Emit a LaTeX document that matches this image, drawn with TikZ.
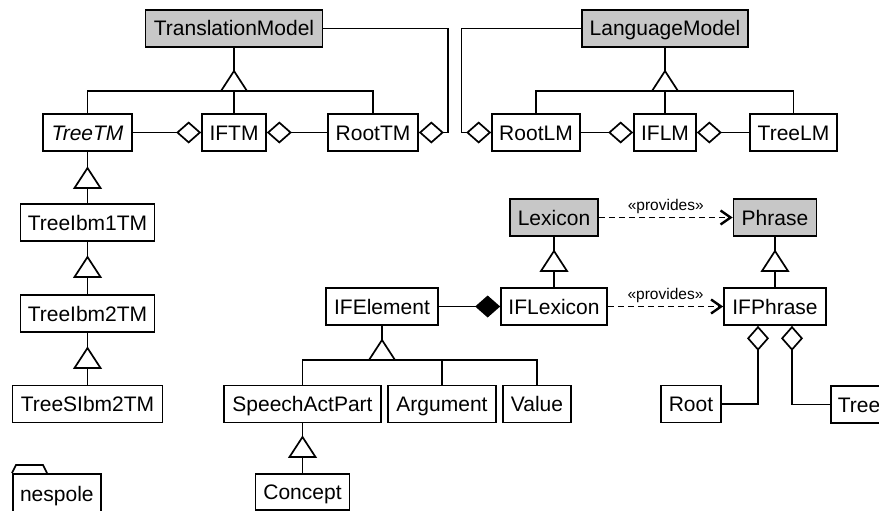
\documentclass[tikz,border=0pt]{standalone}
\usepackage{fontspec}
\setmainfont{Liberation Sans}
\usetikzlibrary{arrows.meta}

% open generalization triangle, apex given, pointing up
\newcommand\gentri[1]{\draw[fill=white, line join=miter] (#1) -- ++(-13,20) -- ++(26,0) -- cycle;}

\begin{document}
\begin{tikzpicture}[x=1pt, y=-1pt, line width=1.7pt,
  cls/.style={draw, minimum height=37pt, inner sep=0pt, text height=15pt, text depth=0pt,
              font=\fontsize{21}{25}\selectfont},
  abs/.style={cls, fill=black!22},
  agg/.style={-{Diamond[open, length=25pt, width=22pt]}},
  comp/.style={-{Diamond[length=25pt, width=22pt]}},
  dep/.style={dash pattern=on 6pt off 4pt,
              -{Straight Barb[length=10pt, width=14pt, line width=2.4pt]}},
  stereo/.style={anchor=base, yshift=7pt, inner sep=0pt, font=\fontsize{15.5}{18}\selectfont}]

\useasboundingbox (0,0) rectangle (879,511);
\clip (0,0) rectangle (879,511);

% ---- translation models
\node[abs, minimum width=177pt] (tm) at (234,28.5) {TranslationModel};
\node[cls, minimum width=89pt, font=\fontsize{21}{25}\selectfont\itshape] (treetm) at (87.5,132.5) {TreeTM};
\node[cls, minimum width=64pt] (iftm) at (234,132.5) {IFTM};
\node[cls, minimum width=90pt] (roottm) at (373,132.5) {RootTM};
\node[cls, minimum width=134pt] (ibm1) at (87.5,222.5) {TreeIbm1TM};
\node[cls, minimum width=134pt] (ibm2) at (87.5,313.5) {TreeIbm2TM};
\node[cls, minimum width=150pt] (sibm2) at (87.5,404) {TreeSIbm2TM};

% ---- language models
\node[abs, minimum width=166pt] (lm) at (665,28.5) {LanguageModel};
\node[cls, minimum width=88pt] (rootlm) at (536,132.5) {RootLM};
\node[cls, minimum width=62pt] (iflm) at (665,132.5) {IFLM};
\node[cls, minimum width=87pt] (treelm) at (793.5,132.5) {TreeLM};

% ---- interlingua elements
\node[cls, minimum width=112pt] (ifelem) at (382,306.5) {IFElement};
\node[cls, minimum width=157pt] (sap) at (302.5,404) {SpeechActPart};
\node[cls, minimum width=108pt] (arg) at (442,404) {Argument};
\node[cls, minimum width=68pt] (val) at (537,404) {Value};
\node[cls, minimum width=94pt, minimum height=36pt] (concept) at (302.5,492) {Concept};

% ---- lexicon and phrases
\node[abs, minimum width=88pt] (lex) at (554,217.5) {Lexicon};
\node[abs, minimum width=83pt] (phrase) at (775,217.5) {Phrase};
\node[cls, minimum width=106pt] (iflex) at (554,306.5) {IFLexicon};
\node[cls, minimum width=102pt] (ifphrase) at (775,306.5) {IFPhrase};
\node[cls, minimum width=60pt] (root) at (691,404) {Root};
\node[cls, anchor=west, inner xsep=7pt] (tree) at (830,404.5) {Tree};

% ---- package
\node[draw, anchor=north west, minimum width=88pt, minimum height=40pt, inner sep=0pt,
      text height=15pt, text depth=0pt, font=\fontsize{21}{25}\selectfont] (nespole) at (12,473) {nespole};
\draw[line join=miter] (nespole.north west) -- ++(4,-8) -- ++(27,0) -- ++(4,8);

% ---- generalizations: TranslationModel
\coordinate (tmtip) at (234,71);
\coordinate (tmbase) at (234,91);
\draw (tm.south) -- (tmtip);
\draw (treetm.north) |- (tmbase) -| (roottm.north);
\draw (iftm.north) -- (tmbase);
\gentri{tmtip}

% ---- generalizations: LanguageModel
\coordinate (lmtip) at (665,71);
\coordinate (lmbase) at (665,91);
\draw (lm.south) -- (lmtip);
\draw (rootlm.north) |- (lmbase) -| (treelm.north);
\draw (iflm.north) -- (lmbase);
\gentri{lmtip}

% ---- generalization chain of tree models
\draw (treetm.south) -- (ibm1.north);
\draw (ibm1.south) -- (ibm2.north);
\draw (ibm2.south) -- (sibm2.north);
\coordinate (t1) at (87.5,168);
\coordinate (t2) at (87.5,257);
\coordinate (t3) at (87.5,348);
\gentri{t1}
\gentri{t2}
\gentri{t3}

% ---- generalizations: IFElement
\coordinate (etip) at (382,340);
\coordinate (ebase) at (382,360);
\draw (ifelem.south) -- (etip);
\draw (sap.north) |- (ebase) -| (val.north);
\draw (arg.north) -- (arg.north |- ebase);
\gentri{etip}
\draw (sap.south) -- (concept.north);
\coordinate (ctip) at (302.5,437);
\gentri{ctip}

% ---- generalizations: lexicon and phrase
\draw (lex.south) -- (iflex.north);
\draw (phrase.south) -- (ifphrase.north);
\coordinate (lxtip) at (554,251);
\coordinate (phtip) at (775,251);
\gentri{lxtip}
\gentri{phtip}

% ---- aggregations
\draw[agg] (treetm.east) -- (iftm.west);
\draw[agg] (roottm.west) -- (iftm.east);
\coordinate (tmturn) at (448,28.5);
\draw[agg] (tm.east) -- (tmturn) |- (roottm.east);
\coordinate (lmturn) at (461.5,28.5);
\draw[agg] (lm.west) -- (lmturn) |- (rootlm.west);
\draw[agg] (rootlm.east) -- (iflm.west);
\draw[agg] (treelm.west) -- (iflm.east);
\draw[agg] (root.east) -| ([xshift=-17pt]ifphrase.south);
\draw[agg] (tree.west) -| ([xshift=17pt]ifphrase.south);

% ---- composition
\draw[comp] (ifelem.east) -- (iflex.west);

% ---- dependencies
\draw[dep] (lex.east) -- node[stereo] {«provides»} (phrase.west);
\draw[dep] (iflex.east) -- node[stereo] {«provides»} (ifphrase.west);

\end{tikzpicture}
\end{document}
